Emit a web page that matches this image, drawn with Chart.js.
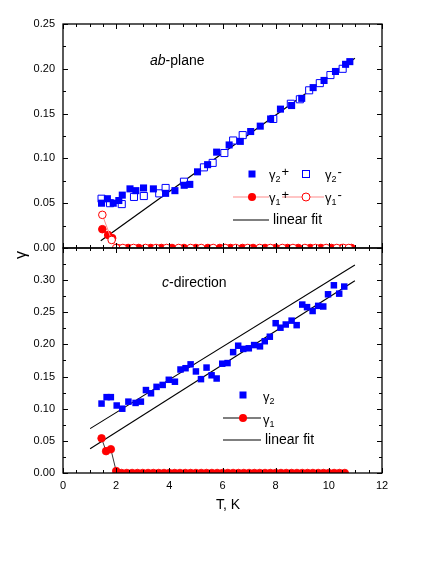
<!DOCTYPE html>
<html>
<head>
<meta charset="utf-8">
<script src="https://cdn.jsdelivr.net/npm/chart.js@4.4.0/dist/chart.umd.min.js"></script>
<style>
  body { margin: 0; background: #fff; }
  #wrap { position: relative; width: 436px; height: 564px; }
  canvas { position: absolute; left: 0; }
</style>
</head>
<body>
<div id="wrap">
  <canvas id="top" width="436" height="258" style="top:0"></canvas>
  <canvas id="bot" width="436" height="324" style="top:240px"></canvas>
</div>
<script>
// ab-plane (upper panel)
const tG2p = [1.45,1.67,1.89,2.1,2.23,2.52,2.74,3.03,3.4,3.86,4.21,4.56,4.77,5.06,5.44,5.78,6.25,6.67,7.06,7.42,7.81,8.18,8.6,8.98,9.41,9.82,10.25,10.63,10.79];
const g2p  = [0.050,0.055,0.050,0.053,0.059,0.066,0.064,0.067,0.066,0.061,0.064,0.070,0.071,0.085,0.093,0.107,0.115,0.119,0.130,0.136,0.144,0.155,0.159,0.167,0.179,0.187,0.197,0.205,0.208];
const tG2m = [1.45,1.77,2.21,2.67,3.04,3.62,3.86,4.55,5.30,5.63,6.07,6.40,6.76,7.91,8.57,8.91,9.26,9.66,10.06,10.52];
const g2m  = [0.055,0.050,0.049,0.057,0.058,0.061,0.067,0.074,0.090,0.095,0.106,0.120,0.126,0.144,0.161,0.166,0.176,0.184,0.193,0.200];
const tG1p = [1.48,1.70,1.85,2.05,2.45,2.85,3.3,3.7,4.1,4.55,5.0,5.45,5.9,6.3,6.75,7.15,7.6,8.0,8.45,8.85,9.3,9.7,10.1,10.5,10.85];
const g1p  = [0.021,0.0145,0.011,0,0,0,0,0,0,0,0,0,0,0,0,0,0,0,0,0,0,0,0,0,0];
const tG1m = [1.48,1.83,2.0,2.25,2.65,3.1,3.5,3.9,4.35,4.8,5.2,5.65,6.1,6.5,6.95,7.4,7.8,8.25,8.65,9.1,9.5,9.9,10.3,10.55,10.75];
const g1m  = [0.037,0.009,0,0,0,0,0,0,0,0,0,0,0,0,0,0,0,0,0,0,0,0,0,0,0];
const tFitAb = [1.42, 10.98];
const fitAb  = [0.0081, 0.2117];

// c-direction (lower panel)
const tG2 = [1.45,1.64,1.80,2.02,2.23,2.46,2.73,2.93,3.12,3.31,3.52,3.75,3.98,4.21,4.42,4.61,4.80,5.00,5.19,5.40,5.59,5.78,5.99,6.19,6.40,6.59,6.78,6.99,7.19,7.41,7.59,7.78,8.00,8.18,8.38,8.60,8.79,9.00,9.18,9.39,9.60,9.79,9.97,10.19,10.39,10.58];
const g2  = [0.108,0.118,0.118,0.105,0.100,0.111,0.109,0.111,0.129,0.124,0.134,0.137,0.145,0.142,0.161,0.163,0.169,0.158,0.146,0.164,0.152,0.147,0.170,0.171,0.188,0.198,0.193,0.194,0.199,0.197,0.205,0.212,0.233,0.226,0.231,0.237,0.230,0.262,0.258,0.252,0.260,0.259,0.278,0.292,0.279,0.290];
const tG1 = [1.45,1.62,1.80,2.00,2.20,2.40,2.60,2.80,3.00,3.20,3.40,3.60,3.80,4.00,4.20,4.40,4.60,4.80,5.00,5.20,5.40,5.60,5.80,6.00,6.20,6.40,6.60,6.80,7.00,7.20,7.40,7.60,7.80,8.00,8.20,8.40,8.60,8.80,9.00,9.20,9.40,9.60,9.80,10.00,10.20,10.40,10.60];
const g1  = [0.054,0.034,0.037,0.003,0,0,0,0,0,0,0,0,0,0,0,0,0,0,0,0,0,0,0,0,0,0,0,0,0,0,0,0,0,0,0,0,0,0,0,0,0,0,0,0,0,0,0];
const tFitUp = [1.02, 10.98];
const fitUp  = [0.069, 0.3235];
const tFitLo = [1.02, 10.98];
const fitLo  = [0.0376, 0.299];

const xTicks = [0, 2, 4, 6, 8, 10, 12];

const FONT = "'Liberation Sans', Arial, sans-serif";
const BLUE = '#0000ff';
const RED = '#ff0000';
const PINK = '#ff8c8c';

const pts = (xs, ys) => xs.map((x, i) => ({ x: x, y: ys[i] }));

// frame with inward ticks on all four sides, then the panel's own notes
function makeFrame(draw) {
  return {
    id: 'frame',
    afterDatasetsDraw(chart) {
      const { ctx, chartArea: a, scales: { x, y } } = chart;
      ctx.save();
      ctx.strokeStyle = '#000';
      ctx.lineWidth = 1;
      ctx.beginPath();
      for (let i = 0; i <= Math.round((x.max - x.min) / 0.5); i++) {
        const px = Math.round(x.getPixelForValue(x.min + i * 0.5)) + 0.5;
        const len = (i % 4 === 0) ? 5 : 3;
        ctx.moveTo(px, a.bottom); ctx.lineTo(px, a.bottom - len);
        ctx.moveTo(px, a.top); ctx.lineTo(px, a.top + len);
      }
      for (let i = 0; i <= Math.round((y.max - y.min) / 0.025); i++) {
        const py = Math.round(y.getPixelForValue(y.min + i * 0.025)) + 0.5;
        const len = (i % 2 === 0) ? 5 : 3;
        ctx.moveTo(a.left, py); ctx.lineTo(a.left + len, py);
        ctx.moveTo(a.right, py); ctx.lineTo(a.right - len, py);
      }
      ctx.stroke();
      ctx.lineWidth = 1.3;
      ctx.strokeRect(a.left, a.top, a.right - a.left, a.bottom - a.top);
      ctx.restore();
      ctx.save();
      draw(ctx);
      ctx.restore();
    }
  };
}

function gamma(ctx, x, y, sub, suffix) {
  ctx.fillStyle = '#000';
  ctx.textBaseline = 'middle';
  ctx.textAlign = 'left';
  ctx.font = '13px ' + FONT;
  ctx.fillText('γ', x, y);
  const w = ctx.measureText('γ').width;
  ctx.font = '9px ' + FONT;
  ctx.fillText(sub, x + w, y + 5);
  const w2 = ctx.measureText(sub).width;
  if (suffix) {
    ctx.font = '13px ' + FONT;
    ctx.fillText(suffix, x + w + w2 + 1, y - 3);
  }
}

function square(ctx, x, y, filled) {
  ctx.save();
  if (filled) { ctx.fillStyle = BLUE; ctx.fillRect(x - 3.5, y - 3.5, 7, 7); }
  else { ctx.strokeStyle = BLUE; ctx.lineWidth = 1; ctx.strokeRect(x - 3.5, y - 3.5, 7, 7); }
  ctx.restore();
}

function circle(ctx, x, y, filled) {
  ctx.save();
  ctx.beginPath();
  ctx.arc(x, y, 4, 0, Math.PI * 2);
  if (filled) { ctx.fillStyle = RED; ctx.fill(); }
  else { ctx.fillStyle = '#fff'; ctx.fill(); ctx.strokeStyle = RED; ctx.lineWidth = 1; ctx.stroke(); }
  ctx.restore();
}

function hline(ctx, x1, x2, y, color) {
  ctx.save();
  ctx.strokeStyle = color; ctx.lineWidth = 1.2;
  ctx.beginPath(); ctx.moveTo(x1, y); ctx.lineTo(x2, y); ctx.stroke();
  ctx.restore();
}

function italicLabel(ctx, x, y, it, rest) {
  ctx.fillStyle = '#000';
  ctx.textBaseline = 'middle';
  ctx.textAlign = 'left';
  ctx.font = 'italic 14px ' + FONT;
  ctx.fillText(it, x, y);
  const w = ctx.measureText(it).width;
  ctx.font = '14px ' + FONT;
  ctx.fillText(rest, x + w, y);
}

function yAxis(max, hideTop) {
  return {
    min: 0, max: max,
    grid: { display: false, drawTicks: false },
    border: { display: false },
    ticks: {
      stepSize: 0.05, padding: 8, color: '#000',
      font: { family: FONT, size: 11 },
      callback: v => (hideTop && Math.abs(v - max) < 1e-6) ? '' : v.toFixed(2)
    },
    afterFit(s) { s.width = 63; s.paddingTop = 0; s.paddingBottom = 0; }
  };
}

function xAxis(show) {
  return {
    type: 'linear', min: 0, max: 12, display: show,
    grid: { display: false, drawTicks: false },
    border: { display: false },
    afterBuildTicks(s) { s.ticks = xTicks.map(v => ({ value: v })); },
    ticks: { padding: 6, color: '#000', font: { family: FONT, size: 11 }, maxRotation: 0 },
    afterFit(s) { s.height = show ? 24 : 0; s.paddingLeft = 0; s.paddingRight = 0; }
  };
}

new Chart(document.getElementById('top'), {
  type: 'scatter',
  data: {
    datasets: [
      { data: pts(tFitAb, fitAb), showLine: true, borderColor: '#000', borderWidth: 1.2, pointRadius: 0, order: 5 },
      { data: pts(tG2m, g2m), pointStyle: 'rect', pointRadius: 5, backgroundColor: '#fff', borderColor: BLUE, borderWidth: 1, order: 4 },
      { data: pts(tG2p, g2p), pointStyle: 'rect', pointRadius: 5, backgroundColor: BLUE, borderColor: BLUE, borderWidth: 0, order: 3 },
      { data: pts(tG1p, g1p), showLine: true, borderColor: PINK, borderWidth: 1, pointRadius: 3.8, pointBackgroundColor: RED, pointBorderColor: RED, clip: 0, order: 2 },
      { data: pts(tG1m, g1m), showLine: true, borderColor: PINK, borderWidth: 1, pointRadius: 3.8, pointBackgroundColor: '#fff', pointBorderColor: RED, pointBorderWidth: 1, clip: 0, order: 1 }
    ]
  },
  options: {
    animation: false, responsive: false,
    layout: { padding: { left: 0, right: 54, top: 24, bottom: 10 } },
    scales: { x: xAxis(false), y: yAxis(0.25, false) },
    plugins: { legend: { display: false }, tooltip: { enabled: false } }
  },
  plugins: [makeFrame(ctx => {
    italicLabel(ctx, 150, 61, 'ab', '-plane');
    square(ctx, 252, 174, true);
    gamma(ctx, 269, 175, '2', '+');
    square(ctx, 306, 174, false);
    gamma(ctx, 325, 175, '2', '-');
    hline(ctx, 233, 269, 197, PINK);
    hline(ctx, 282, 324, 197, PINK);
    circle(ctx, 252, 197, true);
    circle(ctx, 306, 197, false);
    gamma(ctx, 269, 198, '1', '+');
    gamma(ctx, 325, 198, '1', '-');
    hline(ctx, 233, 269, 220, '#000');
    ctx.font = '14px ' + FONT;
    ctx.fillStyle = '#000';
    ctx.textBaseline = 'middle';
    ctx.fillText('linear fit', 273, 220);
  })]
});

new Chart(document.getElementById('bot'), {
  type: 'scatter',
  data: {
    datasets: [
      { data: pts(tFitUp, fitUp), showLine: true, borderColor: '#000', borderWidth: 1.1, pointRadius: 0, order: 5 },
      { data: pts(tFitLo, fitLo), showLine: true, borderColor: '#000', borderWidth: 1.1, pointRadius: 0, order: 4 },
      { data: pts(tG2, g2), pointStyle: 'rect', pointRadius: 4.6, backgroundColor: BLUE, borderColor: BLUE, borderWidth: 0, order: 3 },
      { data: pts(tG1, g1), showLine: true, borderColor: '#000', borderWidth: 0.8, pointRadius: 3.8, pointBackgroundColor: RED, pointBorderColor: RED, clip: 0, order: 1 }
    ]
  },
  options: {
    animation: false, responsive: false,
    layout: { padding: { left: 0, right: 54, top: 8, bottom: 67 } },
    scales: { x: xAxis(true), y: yAxis(0.35, true) },
    plugins: { legend: { display: false }, tooltip: { enabled: false } }
  },
  plugins: [makeFrame(ctx => {
    italicLabel(ctx, 162, 43, 'c', '-direction');
    square(ctx, 243, 155, true);
    gamma(ctx, 263, 157, '2', '');
    hline(ctx, 223, 261, 178, '#000');
    circle(ctx, 243, 178, true);
    gamma(ctx, 263, 180, '1', '');
    hline(ctx, 223, 261, 200, '#000');
    ctx.font = '14px ' + FONT;
    ctx.fillStyle = '#000';
    ctx.textBaseline = 'middle';
    ctx.fillText('linear fit', 265, 200);
    // axis titles
    ctx.textAlign = 'center';
    ctx.fillText('T, K', 228, 265);
    ctx.translate(22, 15);
    ctx.rotate(-Math.PI / 2);
    ctx.font = '16px ' + FONT;
    ctx.fillText('γ', 0, 0);
  })]
});
</script>
</body>
</html>
